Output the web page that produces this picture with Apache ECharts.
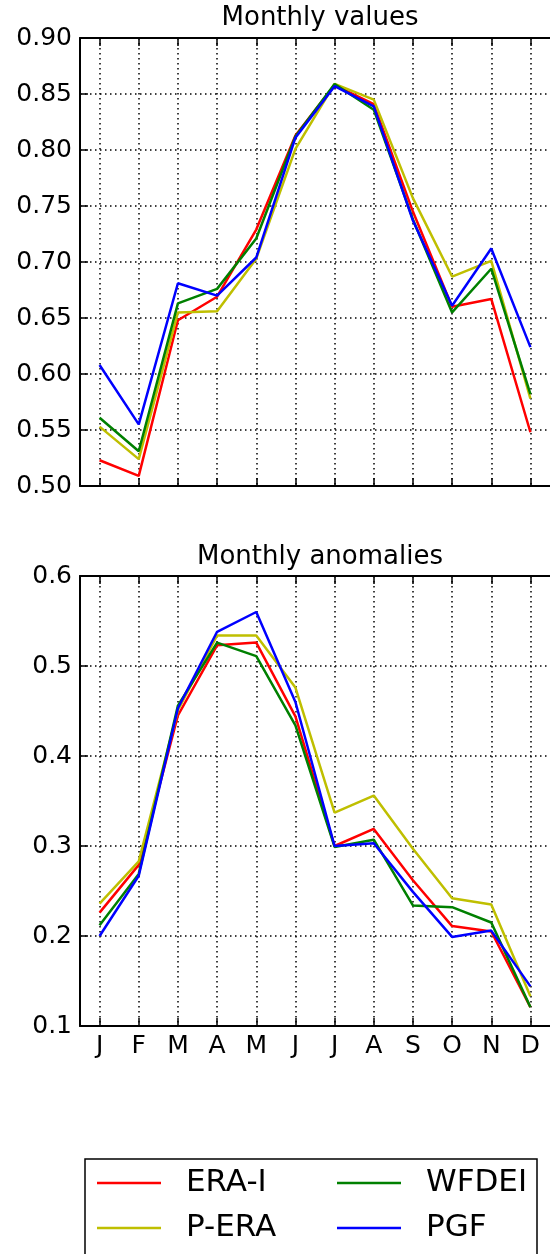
<!DOCTYPE html>
<html>
<head>
<meta charset="utf-8">
<script src="https://cdn.jsdelivr.net/npm/echarts@6/dist/echarts.min.js"></script>
<style>
html, body { margin: 0; padding: 0; background: #fff; }
#main { width: 550px; height: 1254px; }
</style>
</head>
<body>
<div id="main"></div>
<script>
// month labels
var months = ['J', 'F', 'M', 'A', 'M', 'J', 'J', 'A', 'S', 'O', 'N', 'D'];
var monthPos = [1, 2, 3, 4, 5, 6, 7, 8, 9, 10, 11, 12];

// Monthly values
var eraValues   = [0.523, 0.509, 0.648, 0.669, 0.729, 0.813, 0.858, 0.841, 0.745, 0.660, 0.667, 0.548];
var peraValues  = [0.553, 0.524, 0.655, 0.656, 0.703, 0.801, 0.859, 0.845, 0.757, 0.687, 0.701, 0.578];
var wfdeiValues = [0.561, 0.531, 0.663, 0.676, 0.721, 0.812, 0.859, 0.836, 0.738, 0.655, 0.694, 0.582];
var pgfValues   = [0.608, 0.555, 0.681, 0.670, 0.704, 0.811, 0.857, 0.839, 0.737, 0.661, 0.712, 0.624];

// Monthly anomalies
var eraAnom   = [0.226, 0.279, 0.445, 0.523, 0.526, 0.444, 0.300, 0.319, 0.262, 0.211, 0.205, 0.121];
var peraAnom  = [0.236, 0.283, 0.451, 0.534, 0.534, 0.476, 0.337, 0.356, 0.297, 0.242, 0.235, 0.133];
var wfdeiAnom = [0.212, 0.269, 0.456, 0.526, 0.511, 0.434, 0.299, 0.307, 0.234, 0.232, 0.215, 0.121];
var pgfAnom   = [0.200, 0.267, 0.453, 0.538, 0.560, 0.460, 0.300, 0.303, 0.249, 0.199, 0.206, 0.144];

var seriesNames = ['ERA-I', 'P-ERA', 'WFDEI', 'PGF'];
var seriesColors = ['#ff0000', '#bfbf00', '#008000', '#0000ff'];

var FONT = 'DejaVu Sans';

function pairs(vals) {
	var out = [];
	for (var i = 0; i < vals.length; i++) {
		out.push([monthPos[i], vals[i]]);
	}
	return out;
}

var dotted = { color: '#000', width: 1.5, type: [1.5, 3.5] };

function bottomXAxis(gridIndex, showLabels) {
	return {
		gridIndex: gridIndex,
		type: 'value',
		position: 'bottom',
		min: 0.5,
		max: 12.5,
		axisLine: { show: true, onZero: false, lineStyle: { color: '#000', width: 2 } },
		axisTick: { show: true, inside: true, length: 8, customValues: monthPos, lineStyle: { color: '#000', width: 1.5 } },
		axisLabel: {
			show: showLabels,
			customValues: monthPos,
			margin: 8,
			color: '#000',
			fontFamily: FONT,
			fontSize: 25,
			formatter: function(v) { return months[Math.round(v) - 1]; }
		},
		splitLine: { show: true, lineStyle: dotted }
	};
}

function topXAxis(gridIndex) {
	return {
		gridIndex: gridIndex,
		type: 'value',
		position: 'top',
		min: 0.5,
		max: 12.5,
		axisLine: { show: true, onZero: false, lineStyle: { color: '#000', width: 2 } },
		axisTick: { show: true, inside: true, length: 8, customValues: monthPos, lineStyle: { color: '#000', width: 1.5 } },
		axisLabel: { show: false },
		splitLine: { show: false }
	};
}

function leftYAxis(gridIndex, min, max, interval, digits) {
	return {
		gridIndex: gridIndex,
		type: 'value',
		min: min,
		max: max,
		interval: interval,
		axisLine: { show: true, onZero: false, lineStyle: { color: '#000', width: 2 } },
		axisTick: { show: true, inside: true, length: 8, lineStyle: { color: '#000', width: 1.5 } },
		axisLabel: {
			margin: 8,
			color: '#000',
			fontFamily: FONT,
			fontSize: 25,
			formatter: function(v) { return v.toFixed(digits); }
		},
		splitLine: { show: true, lineStyle: dotted }
	};
}

var topData = [eraValues, peraValues, wfdeiValues, pgfValues];
var botData = [eraAnom, peraAnom, wfdeiAnom, pgfAnom];

var series = [];
for (var i = 0; i < seriesNames.length; i++) {
	series.push({
		name: seriesNames[i],
		type: 'line',
		xAxisIndex: 0,
		yAxisIndex: 0,
		data: pairs(topData[i]),
		showSymbol: false,
		color: seriesColors[i],
		lineStyle: { width: 2.5, color: seriesColors[i] }
	});
}
for (var i = 0; i < seriesNames.length; i++) {
	series.push({
		name: seriesNames[i],
		type: 'line',
		xAxisIndex: 2,
		yAxisIndex: 1,
		data: pairs(botData[i]),
		showSymbol: false,
		color: seriesColors[i],
		lineStyle: { width: 2.5, color: seriesColors[i] }
	});
}

// two legend columns, filled top to bottom like the original
function legendPart(names, left) {
	return {
		orient: 'vertical',
		left: left,
		top: 1166,
		height: 100,
		padding: 0,
		data: names,
		icon: 'rect',
		itemWidth: 64,
		itemHeight: 2.5,
		itemGap: 11,
		selectedMode: false,
		textStyle: {
			color: '#000',
			fontFamily: FONT,
			fontSize: 31,
			lineHeight: 34,
			padding: [0, 0, 0, 20]
		}
	};
}

var myChart = echarts.init(document.getElementById('main'), null, { renderer: 'canvas' });
myChart.setOption({
	animation: false,
	backgroundColor: '#fff',
	grid: [
		{ left: 80, top: 38, width: 480, height: 448 },
		{ left: 80, top: 576, width: 480, height: 450 }
	],
	xAxis: [bottomXAxis(0, false), topXAxis(0), bottomXAxis(1, true), topXAxis(1)],
	yAxis: [leftYAxis(0, 0.5, 0.9, 0.05, 2), leftYAxis(1, 0.1, 0.6, 0.1, 1)],
	legend: [legendPart(['ERA-I', 'P-ERA'], 97), legendPart(['WFDEI', 'PGF'], 337)],
	graphic: [
		{
			type: 'text', x: 320, y: 18,
			style: { text: 'Monthly values', fill: '#000', font: '26px "DejaVu Sans"', textAlign: 'center', textVerticalAlign: 'middle' }
		},
		{
			type: 'text', x: 320, y: 557,
			style: { text: 'Monthly anomalies', fill: '#000', font: '26px "DejaVu Sans"', textAlign: 'center', textVerticalAlign: 'middle' }
		},
		{
			type: 'rect', shape: { x: 85, y: 1159, width: 452, height: 130 },
			style: { fill: 'none', stroke: '#000', lineWidth: 1.5 }
		}
	],
	series: series
});
</script>
</body>
</html>
